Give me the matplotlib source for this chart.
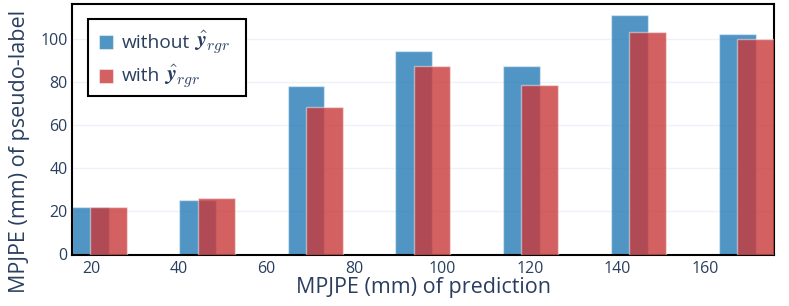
import matplotlib
matplotlib.use("Agg")
import matplotlib.pyplot as plt
from matplotlib.patches import Rectangle

# ---- data ----
bin_centers = [19.8, 44.3, 69.0, 93.5, 118.1, 142.7, 167.3]
without_rgr = [21.9, 25.3, 78.4, 94.8, 87.5, 111.3, 102.4]
with_rgr = [22.0, 26.1, 68.7, 87.7, 79.0, 103.3, 100.1]
x_ticks = [20, 40, 60, 80, 100, 120, 140, 160]
y_ticks = [0, 20, 40, 60, 80, 100]
legend_words = ["without", "with"]
legend_math = r"$\hat{\boldsymbol{y}}_{rgr}$"

plt.rcParams["font.family"] = ["Open Sans", "DejaVu Sans"]
plt.rcParams["mathtext.fontset"] = "cm"

W, H = 789, 306
txt = "#2a3f5f"
blue = (31 / 255, 119 / 255, 180 / 255, 0.78)
red = (201 / 255, 57 / 255, 57 / 255, 0.8)
edge = (1, 1, 1, 0.45)

fig = plt.figure(figsize=(W / 100, H / 100), dpi=100)
ax = fig.add_axes([72 / W, 1 - 254.5 / H, (774 - 72) / W, (254.5 - 4) / H])

width = 8.37
offset = width / 2
ax.bar(bin_centers, without_rgr, width=width, color=blue,
       edgecolor=edge, linewidth=1, zorder=2, label=legend_words[0])
ax.bar([c + offset for c in bin_centers], with_rgr, width=width, color=red,
       edgecolor=edge, linewidth=1, zorder=3, label=legend_words[1])

ax.set_xlim(15.6, 175.7)
ax.set_ylim(0, 116.5)
ax.set_xticks(x_ticks)
ax.set_yticks(y_ticks)
ax.tick_params(length=0, labelsize=11.5, colors=txt)
ax.tick_params(axis="x", pad=5)
ax.tick_params(axis="y", pad=3)
ax.yaxis.grid(True, color="#eef1f7", linewidth=1, zorder=0)
ax.set_axisbelow(True)
for s in ax.spines.values():
    s.set_color("black")
    s.set_linewidth(1.5)

fig.text(423 / W, 1 - 288 / H, "MPJPE (mm) of prediction", ha="center",
         va="center", fontsize=15.5, color=txt)
fig.text(20 / W, 1 - 151 / H, "MPJPE (mm) of pseudo-label", ha="center",
         va="center", rotation=90, fontsize=15.5, color=txt)

# ---- legend (drawn by hand for the larger math symbol) ----
def fx(px):
    return px / W

def fy(py):
    return 1 - py / H

frame = Rectangle((fx(88), fy(96)), (246 - 88) / W, (96 - 19) / H,
                  transform=fig.transFigure, facecolor="white",
                  edgecolor="black", linewidth=1.5, zorder=10)
fig.add_artist(frame)

sq = 13.7
rows = [(42, 47.5, blue), (76, 81.5, red)]
renderer = fig.canvas.get_renderer()
for (cy, base, col), word in zip(rows, legend_words):
    fig.add_artist(Rectangle((fx(99), fy(cy + sq / 2)), sq / W, sq / H,
                             transform=fig.transFigure, facecolor=col,
                             edgecolor=edge, linewidth=0.8, zorder=11))
    t = fig.text(fx(122), fy(base), word, ha="left", va="baseline",
                 fontsize=13.8, color=txt, zorder=11)
    bb = t.get_window_extent(renderer)
    fig.text(fx(bb.x1 + 4), fy(base), legend_math, ha="left", va="baseline",
             fontsize=16, color=txt, zorder=11)

fig.savefig("out.png", dpi=100)
